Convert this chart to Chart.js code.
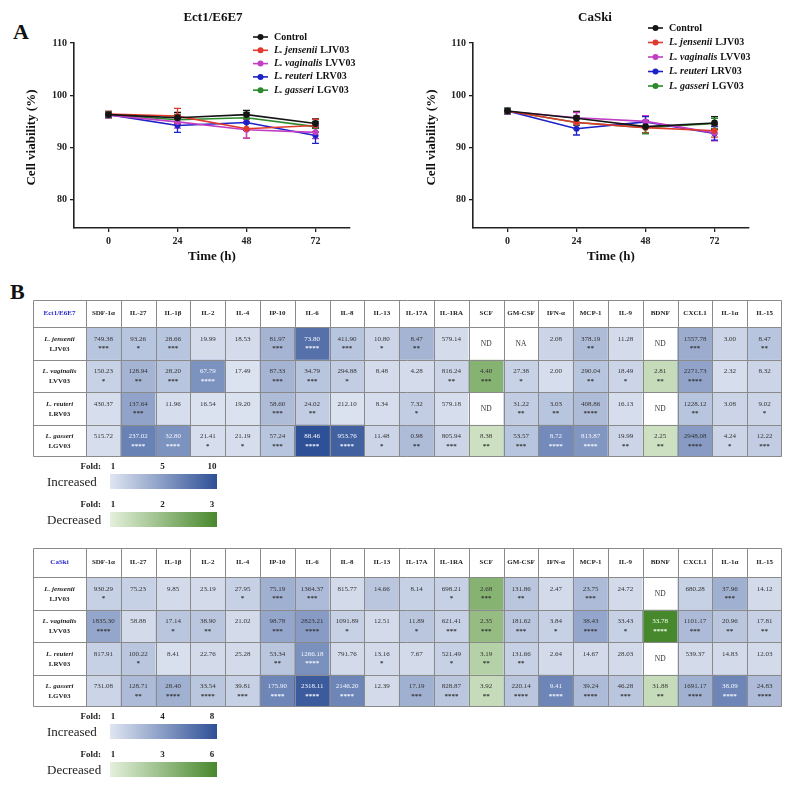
<!DOCTYPE html>
<html><head><meta charset="utf-8">
<script src="https://cdn.jsdelivr.net/npm/chart.js@4.4.0/dist/chart.umd.min.js"></script>
<style>
html,body{margin:0;padding:0;background:#fff;width:785px;height:785px;overflow:hidden;position:relative}
canvas{position:absolute}
.panel{position:absolute;font:bold 22px "Liberation Serif",serif;line-height:22px;color:#111}
</style></head><body>
<div class="panel" style="left:13px;top:21px">A</div>
<div class="panel" style="left:10px;top:281px">B</div>
<canvas id="lc1" width="400" height="290" style="left:0;top:0"></canvas>
<canvas id="lc2" width="385" height="290" style="left:400px;top:0"></canvas>
<canvas id="hm1" width="785" height="240" style="left:0;top:295px"></canvas>
<canvas id="hm2" width="785" height="245" style="left:0;top:540px"></canvas>
<script>
// ---------------- DATA ----------------
const TIME_H = [0, 24, 48, 72];
const X_TICKS = [0, 24, 48, 72];
const Y_TICKS = [80, 90, 100, 110];
const SERIES_SPECIES = ['Control', 'L. jensenii', 'L. vaginalis', 'L. reuteri', 'L. gasseri'];
const SERIES_STRAIN = ['', 'LJV03', 'LVV03', 'LRV03', 'LGV03'];

// Ect1/E6E7 cell viability (%) mean and error
const ECT_CONTROL = [96.3, 95.7, 96.3, 94.6];
const ECT_LJV03   = [96.4, 96.0, 93.6, 94.2];
const ECT_LVV03   = [96.2, 94.9, 93.4, 92.9];
const ECT_LRV03   = [96.3, 94.2, 94.8, 92.3];
const ECT_LGV03   = [96.3, 95.3, 95.7, 94.0];
const ECT_ERR_CONTROL = [0.6, 1.0, 0.8, 0.9];
const ECT_ERR_LJV03   = [0.5, 1.5, 1.8, 1.2];
const ECT_ERR_LVV03   = [0.5, 1.2, 1.6, 1.2];
const ECT_ERR_LRV03   = [0.5, 1.3, 1.5, 1.5];
const ECT_ERR_LGV03   = [0.5, 1.0, 1.0, 1.0];

// CaSki cell viability (%) mean and error
const CASKI_CONTROL = [97.0, 95.6, 94.0, 94.7];
const CASKI_LJV03   = [97.0, 94.8, 93.8, 93.2];
const CASKI_LVV03   = [96.9, 95.7, 95.0, 92.8];
const CASKI_LRV03   = [97.0, 93.6, 94.9, 92.7];
const CASKI_LGV03   = [97.0, 94.8, 93.8, 94.6];
const CASKI_ERR_CONTROL = [0.5, 1.3, 1.2, 1.2];
const CASKI_ERR_LJV03   = [0.5, 1.2, 1.0, 1.2];
const CASKI_ERR_LVV03   = [0.5, 1.0, 1.1, 1.5];
const CASKI_ERR_LRV03   = [0.5, 1.2, 1.0, 1.3];
const CASKI_ERR_LGV03   = [0.5, 1.2, 1.2, 1.0];

// Heatmap tables
const CYTOKINES = ['SDF-1α','IL-27','IL-1β','IL-2','IL-4','IP-10','IL-6','IL-8','IL-13','IL-17A','IL-1RA','SCF','GM-CSF','IFN-α','MCP-1','IL-9','BDNF','CXCL1','IL-1α','IL-15'];
const ROW_SPECIES = ['L. jensenii','L. vaginalis','L. reuteri','L. gasseri'];
const ROW_STRAIN = ['LJV03','LVV03','LRV03','LGV03'];

const ECT_VALUES = [
  ['749.38','93.26','28.66','19.99','18.53','81.97','73.80','411.90','10.80','8.47','579.14','ND','NA','2.08','378.19','11.28','ND','1557.78','3.00','8.47'],
  ['150.23','128.94','28.20','67.79','17.49','87.33','34.79','294.88','8.48','4.28','816.24','4.40','27.38','2.00','290.04','18.49','2.81','2271.73','2.32','8.32'],
  ['430.37','137.64','11.96','16.54','19.20','58.60','24.02','212.10','8.34','7.32','579.18','ND','31.22','3.03','408.86','16.13','ND','1228.12','3.08','9.02'],
  ['515.72','237.02','32.80','21.41','21.19','57.24','88.46','953.76','11.48','0.98','805.94','8.38','53.57','8.72','813.87','19.99','2.25','2948.08','4.24','12.22']
];
const ECT_STARS = [
  ['***','*','***','','','***','****','***','*','**','','','','','**','','','***','','**'],
  ['*','**','***','****','','***','***','*','','','**','***','*','','**','*','**','****','',''],
  ['','***','','','','***','**','','','*','','','**','**','****','','','**','','*'],
  ['','****','****','*','*','***','****','****','*','**','***','**','***','****','****','**','**','****','*','***']
];
// estimated fold change (positive = increased, negative = decreased, 0 = not detected / not available)
const ECT_FOLD = [
  [3, 3, 3, 1.6, 1.6, 4, 8, 3, 2, 4, 1.6, 0, 0, 2, 3.5, 1.6, 0, 4.5, 2, 3],
  [2.2, 4, 3, 6, 1.2, 4, 3, 2.5, 1.6, 1.6, 2, -2.2, 2.2, 1.5, 3, 2, -1.4, 5, 1.5, 2],
  [1.5, 5, 1.5, 1.3, 1.3, 3.5, 2.5, 1.3, 1.5, 2.5, 1.5, 0, 2.5, 3, 3.5, 1.5, 0, 3, 2, 2],
  [1.5, 7, 6, 1.5, 1.5, 3, 10, 9, 2, 3.5, 2, -1.3, 3, 6.5, 5.8, 2, -1.3, 5.5, 2, 2.5]
];
const ECT_INC_TICKS = ['1','5','10'];
const ECT_DEC_TICKS = ['1','2','3'];

const CASKI_VALUES = [
  ['930.29','75.23','9.85','23.19','27.95','75.19','1364.37','815.77','14.66','8.14','698.21','2.68','131.86','2.47','23.75','24.72','ND','680.28','37.96','14.12'],
  ['1835.30','58.88','17.14','38.90','21.02','98.78','2823.21','1091.89','12.51','11.89','621.41','2.35','181.62','3.84','38.43','33.43','33.78','1101.17','20.96','17.81'],
  ['817.91','100.22','8.41','22.76','25.28','53.34','1266.18','791.76','13.16','7.67','521.49','3.19','131.66','2.64','14.67','28.03','ND','539.37','14.83','12.03'],
  ['731.08','128.71','28.40','33.54','39.81','175.90','2318.11','2146.20','12.39','17.19','828.87','3.92','220.14','9.41','39.24','46.28','31.88','1691.17','38.09','24.83']
];
const CASKI_STARS = [
  ['*','','','','*','***','***','','','','*','***','**','','***','','','','***',''],
  ['****','','*','**','','***','****','*','','*','***','***','***','*','****','*','****','***','**','**'],
  ['','*','','','','**','****','','*','','*','**','**','','','','','','',''],
  ['','**','****','****','***','****','****','****','','***','****','**','****','****','****','***','**','****','****','****']
];
const CASKI_FOLD = [
  [2, 2, 1.5, 1.5, 2, 3.5, 3, 1.5, 2.5, 2, 2, -4, 2.5, 1.5, 3, 1.5, 0, 2, 3.5, 1.5],
  [4, 1.5, 2.5, 2.5, 1.5, 4, 4.5, 2, 1.5, 2.5, 2, -3.5, 2.5, 2, 4, 2, -6, 3, 2.5, 2],
  [2, 2.5, 1.3, 1.5, 1.5, 2.5, 5, 1.5, 1.5, 1.5, 2, -2.5, 2, 1.5, 1.5, 1.5, 0, 1.5, 1.5, 1.5],
  [1.8, 3, 3.5, 2.5, 2, 5.5, 7.5, 5.5, 1.5, 3.5, 2.5, -2, 2.5, 5.5, 3, 2.5, -2, 3.5, 5.5, 3]
];
const CASKI_INC_TICKS = ['1','4','8'];
const CASKI_DEC_TICKS = ['1','3','6'];

// ---------------- STYLE ----------------
const FONT = '"Liberation Serif","Times New Roman",serif';
const SERIES_COLORS = ['#151515','#e03a2c','#c23fc4','#1c22c8','#2b8a2b'];
const BLUE_LO = [224,230,242], BLUE_HI = [46,80,150];
const GREEN_LO = [228,240,220], GREEN_HI = [72,136,44];

function lerp(a,b,t){return a.map((v,i)=>Math.round(v+(b[i]-v)*t));}
function rgb(c){return 'rgb('+c.join(',')+')';}

// ---------------- LINE CHARTS ----------------
const errorBars = {
  id:'errorBars',
  beforeDatasetsDraw(chart){
    const ctx = chart.ctx, ys = chart.scales.y;
    chart.data.datasets.forEach((ds,i)=>{
      const meta = chart.getDatasetMeta(i);
      ctx.save(); ctx.strokeStyle = ds.borderColor; ctx.lineWidth = 1.3;
      meta.data.forEach((pt,k)=>{
        const v = ds.data[k].y, e = ds.errs[k];
        const y1 = ys.getPixelForValue(v+e), y2 = ys.getPixelForValue(v-e);
        ctx.beginPath();
        ctx.moveTo(pt.x,y1); ctx.lineTo(pt.x,y2);
        ctx.moveTo(pt.x-3.5,y1); ctx.lineTo(pt.x+3.5,y1);
        ctx.moveTo(pt.x-3.5,y2); ctx.lineTo(pt.x+3.5,y2);
        ctx.stroke();
      });
      ctx.restore();
    });
  }
};

function makeLine(id, title, means, errs, lay){
  const datasets = SERIES_SPECIES.map((name,i)=>({
    label: name,
    data: TIME_H.map((t,k)=>({x:t, y:means[i][k]})),
    errs: errs[i],
    borderColor: SERIES_COLORS[i], backgroundColor: SERIES_COLORS[i],
    borderWidth: 1.6, pointRadius: i===0?3.4:3, pointBorderWidth:0, tension:0
  }));
  const deco = {
    id:'deco',
    afterDraw(chart){
      const ctx = chart.ctx, ca = chart.chartArea;
      ctx.save();
      ctx.fillStyle = '#111';
      ctx.textAlign = 'center'; ctx.textBaseline = 'middle';
      ctx.font = 'bold 13px '+FONT;
      ctx.fillText(title, lay.titleX, 18);
      ctx.fillText('Time (h)', (ca.left+ca.right)/2, 257);
      ctx.save();
      ctx.translate(32, (ca.top+ca.bottom)/2 + 2);
      ctx.rotate(-Math.PI/2);
      ctx.fillText('Cell viability (%)', 0, 0);
      ctx.restore();
      // legend
      ctx.textAlign = 'left';
      SERIES_SPECIES.forEach((name,i)=>{
        const y = lay.legY + i*lay.legDy;
        ctx.strokeStyle = SERIES_COLORS[i]; ctx.fillStyle = SERIES_COLORS[i]; ctx.lineWidth = 1.6;
        ctx.beginPath(); ctx.moveTo(lay.legX, y); ctx.lineTo(lay.legX+15, y); ctx.stroke();
        ctx.beginPath(); ctx.arc(lay.legX+7.5, y, 3, 0, Math.PI*2); ctx.fill();
        ctx.fillStyle = '#111';
        let tx = lay.legX + 21;
        if (i===0){
          ctx.font = 'bold 10px '+FONT; ctx.fillText(name, tx, y);
        } else {
          ctx.font = 'italic bold 10px '+FONT; ctx.fillText(name, tx, y);
          tx += ctx.measureText(name).width + 3;
          ctx.font = 'bold 10px '+FONT; ctx.fillText(SERIES_STRAIN[i], tx, y);
        }
      });
      ctx.restore();
    }
  };
  const tickFont = {family: FONT, size: 10, weight: 'bold'};
  return new Chart(document.getElementById(id), {
    type:'line',
    data:{datasets},
    options:{
      responsive:false, animation:false, events:[], devicePixelRatio:1,
      layout:{padding:{left:0, top:43, right:lay.padRight, bottom:0}},
      plugins:{legend:{display:false}, tooltip:{enabled:false}},
      scales:{
        x:{type:'linear', min:-12, max:84,
           afterBuildTicks(a){a.ticks = X_TICKS.map(v=>({value:v}));},
           afterFit(a){a.height = 62;},
           ticks:{font:tickFont, color:'#222', padding:3, maxRotation:0},
           grid:{display:true, drawOnChartArea:false, drawTicks:true, tickLength:4, color:'#222', lineWidth:1.3},
           border:{display:true, color:'#222', width:1.6}},
        y:{type:'linear', min:74.6, max:110,
           afterBuildTicks(a){a.ticks = Y_TICKS.map(v=>({value:v}));},
           afterFit(a){a.width = lay.yWidth;},
           ticks:{font:tickFont, color:'#222', padding:3},
           grid:{display:true, drawOnChartArea:false, drawTicks:true, tickLength:4, color:'#222', lineWidth:1.3},
           border:{display:true, color:'#222', width:1.6}}
      }
    },
    plugins:[errorBars, deco]
  });
}

makeLine('lc1', 'Ect1/E6E7',
  [ECT_CONTROL, ECT_LJV03, ECT_LVV03, ECT_LRV03, ECT_LGV03],
  [ECT_ERR_CONTROL, ECT_ERR_LJV03, ECT_ERR_LVV03, ECT_ERR_LRV03, ECT_ERR_LGV03],
  {padRight:50, yWidth:74, titleX:213, legX:253, legY:37, legDy:13.3});
makeLine('lc2', 'CaSki',
  [CASKI_CONTROL, CASKI_LJV03, CASKI_LVV03, CASKI_LRV03, CASKI_LGV03],
  [CASKI_ERR_CONTROL, CASKI_ERR_LJV03, CASKI_ERR_LVV03, CASKI_ERR_LRV03, CASKI_ERR_LGV03],
  {padRight:36, yWidth:73, titleX:195, legX:248, legY:28, legDy:14.5});

// ---------------- HEATMAP TABLES ----------------
function makeTable(id, name, values, stars, fold, incTicks, decTicks, lay){
  const incMax = parseFloat(incTicks[incTicks.length-1]);
  const decMax = parseFloat(decTicks[decTicks.length-1]);
  function tOf(f){ return f>0 ? Math.min(1,(f-1)/(incMax-1)) : Math.min(1,(-f-1)/(decMax-1)); }
  function cellColor(f){
    if (f===0) return '#ffffff';
    return f>0 ? rgb(lerp(BLUE_LO, BLUE_HI, tOf(f))) : rgb(lerp(GREEN_LO, GREEN_HI, tOf(f)));
  }
  function textColor(f){
    if (f>0 && tOf(f)>0.5) return '#f4f6ff';
    if (f<0 && tOf(f)>0.7) return '#f4fff0';
    return '#333';
  }
  const datasets = ROW_SPECIES.map((sp,r)=>({
    label: sp,
    data: CYTOKINES.map(()=>1),
    backgroundColor: CYTOKINES.map((c,j)=>cellColor(fold[r][j])),
    barPercentage:1, categoryPercentage:1, borderWidth:0
  }));
  const tablePlugin = {
    id:'tableDeco',
    afterDatasetsDraw(chart){
      const ctx = chart.ctx, ca = chart.chartArea;
      const H = lay.headerH, LW = lay.labelW;
      ctx.save();
      ctx.textAlign = 'center'; ctx.textBaseline = 'middle';
      const first = chart.getDatasetMeta(0).data;
      // header row background
      ctx.fillStyle = '#fff';
      ctx.fillRect(ca.left-LW, ca.top-H, ca.right-ca.left+LW, H);
      const xEdges = [Math.round(ca.left-LW)];
      first.forEach((el,j)=>{
        const p = el.getProps(['x','width'], true);
        xEdges.push(Math.round(p.x - p.width/2));
        if (j===first.length-1) xEdges.push(Math.round(p.x + p.width/2) - 1);
        ctx.fillStyle = '#222'; ctx.font = 'bold 7px '+FONT;
        ctx.fillText(CYTOKINES[j], p.x, ca.top-H/2);
      });
      ctx.fillStyle = '#2a2ad0'; ctx.font = 'bold 7px '+FONT;
      ctx.fillText(name, ca.left-LW/2, ca.top-H/2);
      const yEdges = [Math.round(ca.top-H)];
      // rows
      ROW_SPECIES.forEach((sp,r)=>{
        const meta = chart.getDatasetMeta(r);
        meta.data.forEach((el,j)=>{
          const p = el.getProps(['x','y','base','width'], true);
          const top = Math.min(p.y,p.base), h = Math.abs(p.base-p.y);
          if (j===0){
            yEdges.push(Math.round(top));
            if (r===ROW_SPECIES.length-1) yEdges.push(Math.round(top+h)-1);
          }
          const v = values[r][j], s = stars[r][j];
          ctx.fillStyle = textColor(fold[r][j]);
          if (v==='ND' || v==='NA'){
            ctx.font = '7.5px '+FONT; ctx.fillText(v, p.x, top+h/2+1);
          } else {
            ctx.font = '7px '+FONT; ctx.fillText(v, p.x, top+h*0.36);
            if (s){ ctx.font = 'bold 7px '+FONT; ctx.fillText(s, p.x, top+h*0.66); }
          }
          if (j===0){
            ctx.fillStyle = '#222';
            ctx.font = 'italic bold 7px '+FONT; ctx.fillText(sp, ca.left-LW/2, top+h*0.36);
            ctx.font = 'bold 7px '+FONT; ctx.fillText(ROW_STRAIN[r], ca.left-LW/2, top+h*0.68);
          }
        });
      });
      // grid lines
      ctx.strokeStyle = '#8a8a8a'; ctx.lineWidth = 1;
      ctx.beginPath();
      const yT = yEdges[0], yB = yEdges[yEdges.length-1];
      const xL = xEdges[0], xR = xEdges[xEdges.length-1];
      xEdges.forEach(x=>{ ctx.moveTo(x+0.5, yT+0.5); ctx.lineTo(x+0.5, yB+0.5); });
      yEdges.forEach(y=>{ ctx.moveTo(xL+0.5, y+0.5); ctx.lineTo(xR+0.5, y+0.5); });
      ctx.stroke();
      // fold legends
      const bx0 = 110, bx1 = 217;
      const drawLegend = (yFold, barTop, barH, label, ticks, lo, hi) => {
        ctx.fillStyle = '#222'; ctx.textBaseline = 'middle';
        ctx.font = 'bold 9px '+FONT; ctx.textAlign = 'right';
        ctx.fillText('Fold:', 101, yFold);
        ctx.textAlign = 'center';
        ticks.forEach((t,k)=>{
          const x = bx0 + 3 + (bx1 - bx0 - 8) * k/(ticks.length-1);
          ctx.fillText(t, x, yFold);
        });
        const g = ctx.createLinearGradient(bx0,0,bx1,0);
        g.addColorStop(0, rgb(lo)); g.addColorStop(1, rgb(hi));
        ctx.fillStyle = g; ctx.fillRect(bx0, barTop, bx1-bx0, barH);
        ctx.fillStyle = '#222'; ctx.font = '13px '+FONT; ctx.textAlign = 'left';
        ctx.fillText(label, 47, barTop + barH/2 + 1);
      };
      const b = ca.bottom;
      drawLegend(b+10, b+17, 15, 'Increased', incTicks, BLUE_LO, BLUE_HI);
      drawLegend(b+48, b+55, 15, 'Decreased', decTicks, GREEN_LO, GREEN_HI);
      ctx.restore();
    }
  };
  return new Chart(document.getElementById(id), {
    type:'bar',
    data:{labels:CYTOKINES, datasets},
    options:{
      responsive:false, animation:false, events:[], devicePixelRatio:1,
      layout:{padding:lay.pad},
      plugins:{legend:{display:false}, tooltip:{enabled:false}},
      scales:{
        x:{display:false, stacked:true},
        y:{display:false, stacked:true, reverse:true, min:0, max:ROW_SPECIES.length}
      }
    },
    plugins:[tablePlugin]
  });
}

makeTable('hm1', 'Ect1/E6E7', ECT_VALUES, ECT_STARS, ECT_FOLD, ECT_INC_TICKS, ECT_DEC_TICKS,
  {headerH:27, labelW:53, pad:{left:86, right:3, top:32, bottom:78}});
makeTable('hm2', 'CaSki', CASKI_VALUES, CASKI_STARS, CASKI_FOLD, CASKI_INC_TICKS, CASKI_DEC_TICKS,
  {headerH:29, labelW:53, pad:{left:86, right:3, top:37, bottom:78}});
</script>
</body></html>
